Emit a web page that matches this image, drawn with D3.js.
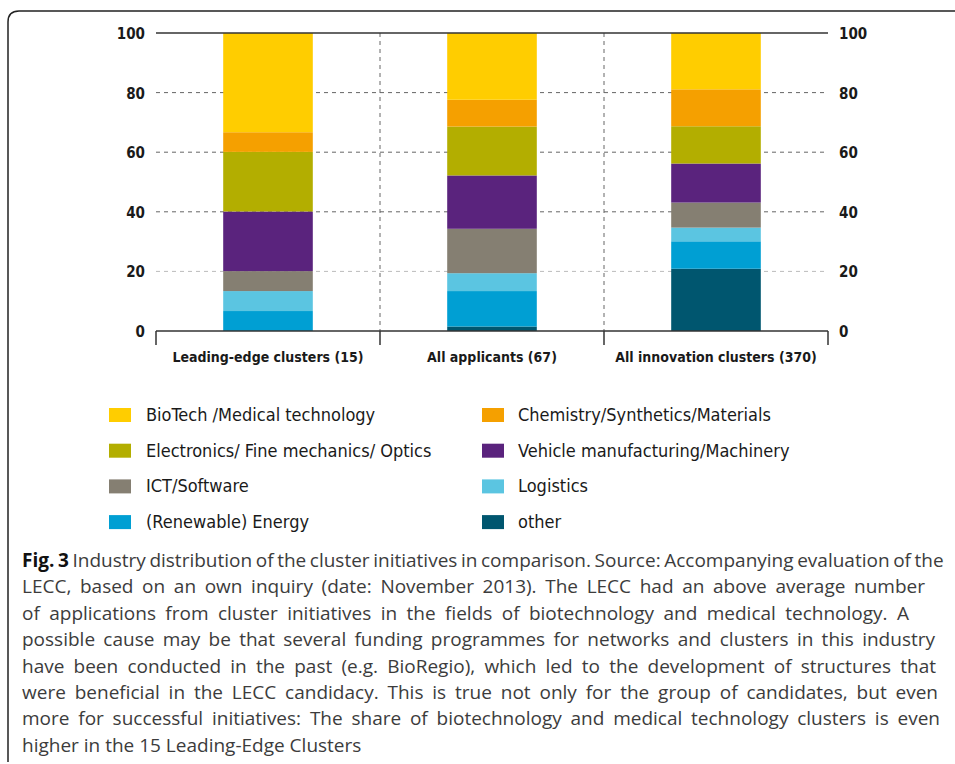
<!DOCTYPE html>
<html>
<head>
<meta charset="utf-8">
<script src="https://cdn.jsdelivr.net/npm/d3@7"></script>
<style>
  body { margin: 0; background: #fff; }
  .cond { font-family: 'DejaVu Sans Condensed', 'Liberation Sans Narrow', 'DejaVu Sans', sans-serif; font-stretch: condensed; }
  .caption { font-family: 'Open Sans', 'Noto Sans', sans-serif; }
</style>
</head>
<body>
<div id="chart"></div>
<script>
// Data
const groups = ['Leading-edge clusters (15)', 'All applicants (67)', 'All innovation clusters (370)'];
const industries = ['other', '(Renewable) Energy', 'Logistics', 'ICT/Software',
  'Vehicle manufacturing/Machinery', 'Electronics/ Fine mechanics/ Optics',
  'Chemistry/Synthetics/Materials', 'BioTech /Medical technology'];
// share (%) per group, in order of groups
const other = [0, 1.5, 20.9];
const energy = [6.7, 11.9, 9.2];
const logistics = [6.7, 6.0, 4.6];
const ict = [6.7, 14.9, 8.4];
const vehicle = [20.0, 17.9, 13.1];
const electronics = [20.0, 16.4, 12.5];
const chemistry = [6.6, 9.0, 12.4];
const biotech = [33.3, 22.4, 18.9];
const yTicks = [0, 20, 40, 60, 80, 100];
const colors = ['#00566f', '#009fd3', '#5bc5e1', '#857f72', '#5a237d', '#b3ae00', '#f5a000', '#ffcd00'];
const legendLeft = ['BioTech /Medical technology', 'Electronics/ Fine mechanics/ Optics', 'ICT/Software', '(Renewable) Energy'];
const legendRight = ['Chemistry/Synthetics/Materials', 'Vehicle manufacturing/Machinery', 'Logistics', 'other'];
const captionLines = [
  ['Industry distribution of the cluster initiatives in comparison. Source: Accompanying evaluation of the', 945],
  ['LECC, based on an own inquiry (date: November 2013). The LECC had an above average number', 925],
  ['of applications from cluster initiatives in the fields of biotechnology and medical technology. A', 909],
  ['possible cause may be that several funding programmes for networks and clusters in this industry', 935],
  ['have been conducted in the past (e.g. BioRegio), which led to the development of structures that', 936],
  ['were beneficial in the LECC candidacy. This is true not only for the group of candidates, but even', 938],
  ['more for successful initiatives: The share of biotechnology and medical technology clusters is even', 940],
  ['higher in the 15 Leading-Edge Clusters', 0]
];

const series = [other, energy, logistics, ict, vehicle, electronics, chemistry, biotech];
const table = groups.map((g, i) => {
  const row = { group: g };
  industries.forEach((k, j) => { row[k] = series[j][i]; });
  return row;
});

// Base positioning
var margin = { top: 33, left: 156, right: 127 },
  width = 955 - margin.left - margin.right,
  height = 298;

const svg = d3.select('#chart')
  .append('svg')
  .attr('width', 955)
  .attr('height', 764);

// frame
svg.append('path')
  .attr('d', 'M8,762 L8,22 Q8,11 19,11 L955,11')
  .attr('fill', 'none')
  .attr('stroke', '#222')
  .attr('stroke-width', 1.5);

const g = svg.append('g')
  .attr('transform', 'translate(' + margin.left + ',' + margin.top + ')');

const x = d3.scaleBand().domain(groups).range([0, width]).paddingInner(0).paddingOuter(0);
const y = d3.scaleLinear().domain([0, 100]).range([height, 0]);
const color = d3.scaleOrdinal().domain(industries).range(colors);

// grid lines
g.selectAll('.grid')
  .data(yTicks.filter(d => d > 0 && d < 100))
  .enter()
  .append('line')
  .attr('x1', 0).attr('x2', width)
  .attr('y1', d => y(d)).attr('y2', d => y(d))
  .attr('stroke', d => d === 20 ? '#bbb' : '#666')
  .attr('stroke-width', 1)
  .attr('stroke-dasharray', '4,4');

// vertical separators
g.selectAll('.sep')
  .data(groups.slice(1))
  .enter()
  .append('line')
  .attr('x1', d => x(d)).attr('x2', d => x(d))
  .attr('y1', 0).attr('y2', height)
  .attr('stroke', '#666')
  .attr('stroke-dasharray', '4,4');

// stacked bars
const stacked = d3.stack().keys(industries)(table);
const barW = x.bandwidth() * 0.4;
g.selectAll('.layer')
  .data(stacked)
  .enter()
  .append('g')
  .attr('fill', d => color(d.key))
  .selectAll('rect')
  .data(d => d)
  .enter()
  .append('rect')
  .attr('x', d => x(d.data.group) + (x.bandwidth() - barW) / 2)
  .attr('width', barW)
  .attr('y', d => y(d[1]))
  .attr('height', d => y(d[0]) - y(d[1]));

// top line at 100
g.append('line')
  .attr('x1', 0).attr('x2', width)
  .attr('y1', y(100)).attr('y2', y(100))
  .attr('stroke', '#333').attr('stroke-width', 1.5);

// X axis
const xAxis = g.append('g')
  .attr('transform', 'translate(0,' + height + ')');
xAxis.append('line')
  .attr('x1', 0).attr('x2', width)
  .attr('stroke', '#333').attr('stroke-width', 1.5);
xAxis.selectAll('.tick')
  .data([0].concat(groups.map(d => x(d) + x.bandwidth())))
  .enter()
  .append('line')
  .attr('x1', d => d).attr('x2', d => d)
  .attr('y1', 0).attr('y2', 14)
  .attr('stroke', '#333').attr('stroke-width', 1.5);
xAxis.selectAll('.label')
  .data(groups)
  .enter()
  .append('text')
  .attr('class', 'cond')
  .attr('x', d => x(d) + x.bandwidth() / 2)
  .attr('y', 31)
  .attr('text-anchor', 'middle')
  .attr('font-size', 14)
  .attr('font-weight', 600)
  .attr('fill', '#1a1a1a')
  .text(d => d);

// Y labels, both sides
[[-11, 'end'], [width + 11, 'start']].forEach(([px, anchor]) => {
  g.selectAll(null)
    .data(yTicks)
    .enter()
    .append('text')
    .attr('class', 'cond')
    .attr('x', px)
    .attr('y', d => y(d) + 6)
    .attr('text-anchor', anchor)
    .attr('font-size', 15)
    .attr('font-weight', 'bold')
    .attr('fill', '#1a1a1a')
    .text(d => d);
});

// Legend
const legend = svg.append('g');
[[legendLeft, 109, 146], [legendRight, 482, 518]].forEach(([items, sx, tx]) => {
  const rows = legend.selectAll(null)
    .data(items)
    .enter()
    .append('g')
    .attr('transform', (d, i) => 'translate(0,' + (415 + i * 35.7) + ')');
  rows.append('rect')
    .attr('x', sx).attr('y', -7)
    .attr('width', 22).attr('height', 14)
    .attr('fill', d => color(d));
  rows.append('text')
    .attr('class', 'cond')
    .attr('x', tx).attr('y', 6)
    .attr('font-size', 18)
    .attr('fill', '#1a1a1a')
    .text(d => d);
});

// Caption, justified by word spacing
const cap = svg.append('g').attr('class', 'caption');
captionLines.forEach(([line, right], i) => {
  const t = cap.append('text')
    .attr('x', 22)
    .attr('y', 567 + i * 26.4)
    .attr('font-size', 19)
    .attr('fill', '#3c3c3c');
  if (i === 0) {
    t.append('tspan').attr('font-weight', 'bold').attr('fill', '#111').text('Fig. 3');
    t.append('tspan').text(' ' + line);
  } else {
    t.text(line);
  }
  if (right) {
    const natural = t.node().getComputedTextLength();
    const spaces = (line.match(/ /g) || []).length + (i === 0 ? 1 : 0);
    const extra = (right - 22 - natural) / spaces;
    t.attr('word-spacing', extra);
  }
});
</script>
</body>
</html>
